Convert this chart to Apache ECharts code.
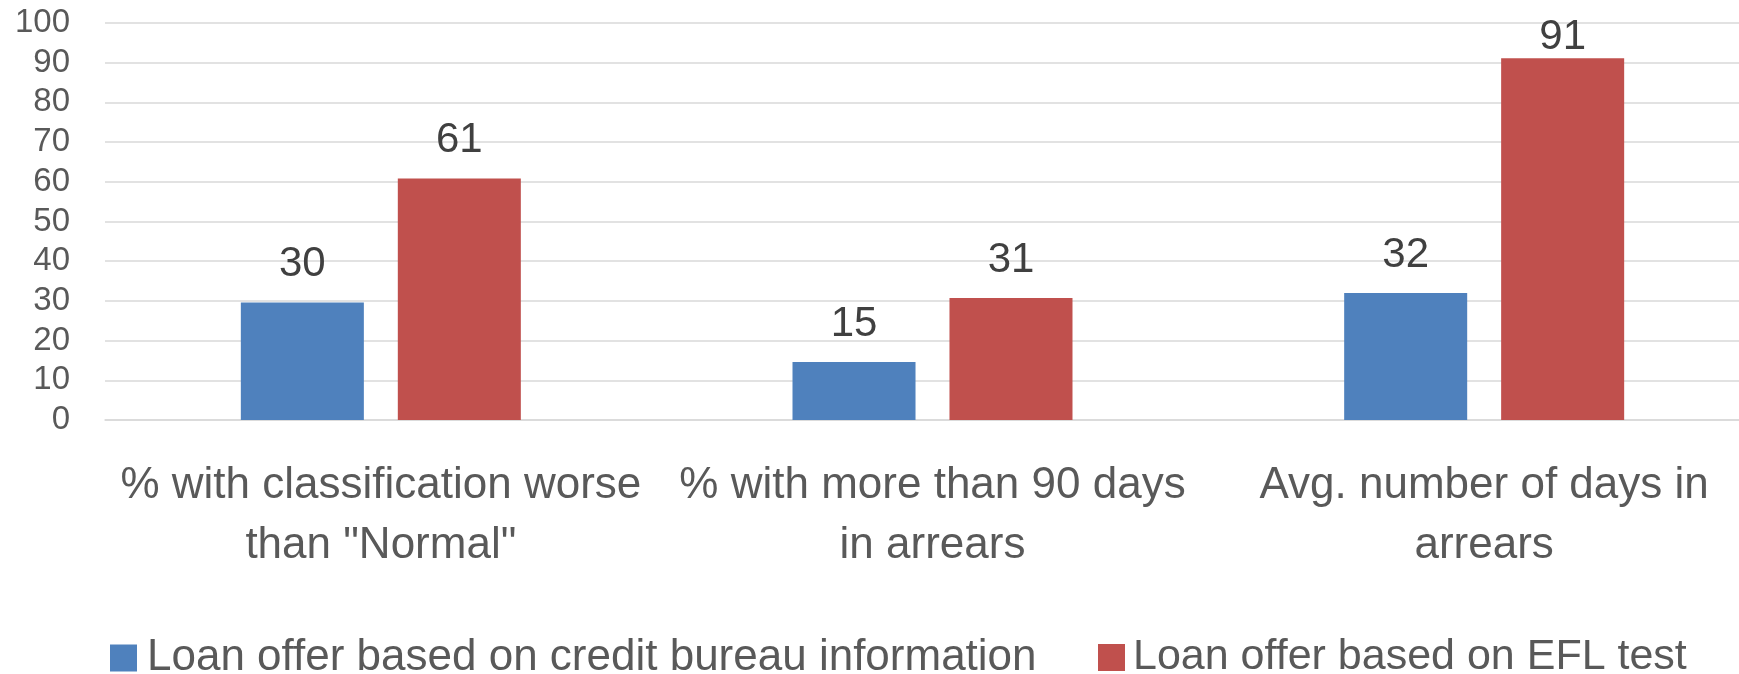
<!DOCTYPE html>
<html>
<head>
<meta charset="utf-8">
<script src="https://cdn.jsdelivr.net/npm/echarts@6/dist/echarts.min.js"></script>
<style>
html,body{margin:0;padding:0;background:#fff;overflow:hidden;width:1739px;height:674px;}
#chart{width:1760px;height:674px;}
</style>
</head>
<body>
<div id="chart"></div>
<script>
const categories = [
  '% with classification worse\nthan "Normal"',
  '% with more than 90 days\nin arrears',
  'Avg. number of days in\narrears'
];
const seriesNames = [
  'Loan offer based on credit bureau information',
  'Loan offer based on EFL test'
];
const creditBureau = [29.6, 14.6, 32.0];
const eflTest = [60.8, 30.7, 91.1];
const yTicks = { min: 0, max: 100, interval: 10 };

const FONT = '"Liberation Sans", Arial, sans-serif';
const chart = echarts.init(document.getElementById('chart'), null, { renderer: 'canvas' });

const labelCfg = {
  show: true,
  position: 'top',
  distance: 17,
  fontFamily: FONT,
  fontSize: 42,
  color: '#404040',
  formatter: p => Math.round(p.value)
};
// keep labels inside the chart area (like the original), pushing them down if needed
const labelLayout = params => {
  const minTop = 16;
  if (params.labelRect.y < minTop) return { dy: minTop - params.labelRect.y };
  return {};
};

chart.setOption({
  animation: false,
  backgroundColor: '#ffffff',
  textStyle: { fontFamily: FONT },
  grid: { left: 105, right: 0, top: 23, bottom: 254, containLabel: false },
  legend: [
    {
      data: [seriesNames[0]],
      left: 105, top: 631,
      itemWidth: 27, itemHeight: 27,
      icon: 'rect',
      textStyle: { fontFamily: FONT, fontSize: 44, color: '#595959', padding: [0, 0, 0, 5] }
    },
    {
      data: [seriesNames[1]],
      left: 1093, top: 631,
      itemWidth: 27, itemHeight: 27,
      icon: 'rect',
      textStyle: { fontFamily: FONT, fontSize: 43, color: '#595959', padding: [0, 0, 0, 3] }
    }
  ],
  xAxis: {
    type: 'category',
    data: categories,
    axisLine: { show: true, lineStyle: { color: '#d9d9d9', width: 1.5 } },
    axisTick: { show: false },
    axisLabel: {
      interval: 0,
      margin: 36,
      fontFamily: FONT,
      fontSize: 44,
      lineHeight: 60,
      color: '#595959'
    }
  },
  yAxis: {
    type: 'value',
    min: yTicks.min, max: yTicks.max, interval: yTicks.interval,
    axisLine: { show: false },
    axisTick: { show: false },
    splitLine: { lineStyle: { color: '#d9d9d9', width: 1.6 } },
    axisLabel: { margin: 35, fontFamily: FONT, fontSize: 33, color: '#595959' }
  },
  series: [
    {
      name: seriesNames[0],
      type: 'bar',
      data: creditBureau,
      barWidth: '22.3%',
      barGap: '27.6%',
      itemStyle: { color: '#4F81BD' },
      label: labelCfg,
      labelLayout: labelLayout
    },
    {
      name: seriesNames[1],
      type: 'bar',
      data: eflTest,
      barWidth: '22.3%',
      barGap: '27.6%',
      itemStyle: { color: '#C0504D' },
      label: labelCfg,
      labelLayout: labelLayout
    }
  ]
});
</script>
</body>
</html>
